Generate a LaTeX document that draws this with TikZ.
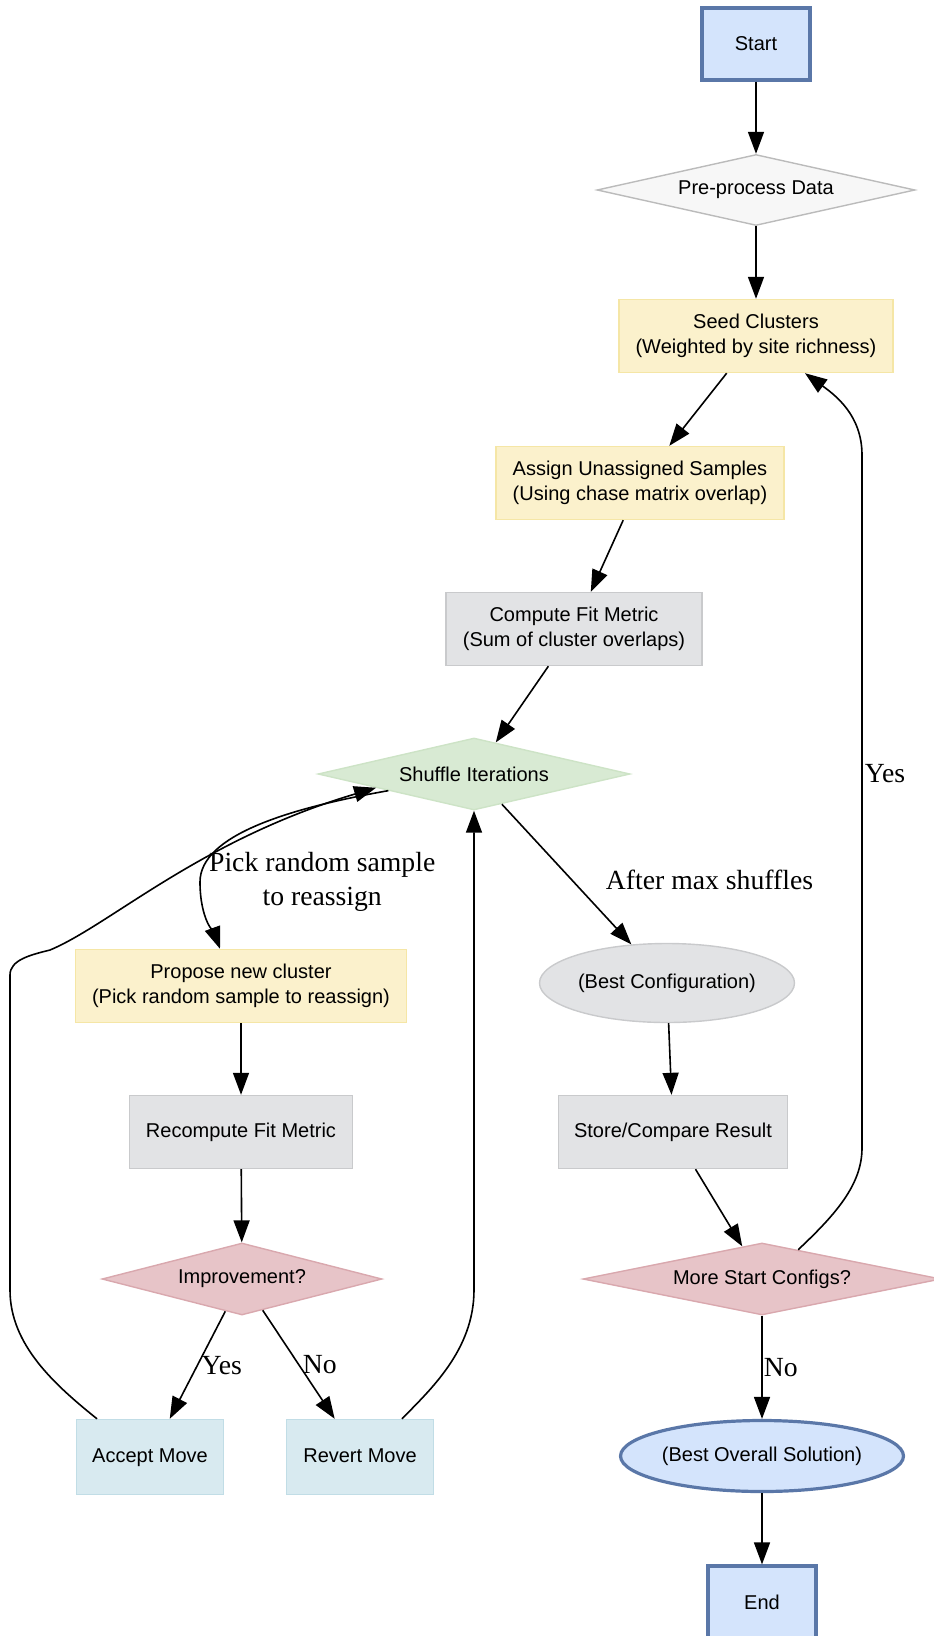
\documentclass[tikz,border=0pt]{standalone}
\usepackage{fontspec}
\setmainfont{Liberation Sans}
\newfontfamily\lblfont{Liberation Serif}
\usepackage{tikz}
\usetikzlibrary{shapes, arrows.meta}
\definecolor{termfill}{HTML}{D4E4FC}
\definecolor{termline}{HTML}{5A77A8}
\definecolor{prepfill}{HTML}{F7F7F7}
\definecolor{prepline}{HTML}{BBBBBB}
\definecolor{seedfill}{HTML}{FBF1CC}
\definecolor{seedline}{HTML}{F5E6A6}
\definecolor{calcfill}{HTML}{E2E3E5}
\definecolor{calcline}{HTML}{C9CACC}
\definecolor{loopfill}{HTML}{D8EAD3}
\definecolor{loopline}{HTML}{CDE3C6}
\definecolor{checkfill}{HTML}{E7C4C8}
\definecolor{checkline}{HTML}{D9A8AE}
\definecolor{movefill}{HTML}{D8EAF0}
\definecolor{moveline}{HTML}{C1DDE6}
\tikzstyle{base} = [font=\fontsize{20}{25}\selectfont, align=center, inner sep=0pt, line width=1.4pt]
\tikzstyle{term} = [base, rectangle, draw=termline, fill=termfill, line width=3.2pt, minimum width=108pt, minimum height=72pt]
\tikzstyle{final} = [base, ellipse, draw=termline, fill=termfill, line width=3.2pt, minimum width=277pt, minimum height=71pt]
\tikzstyle{prep} = [base, diamond, aspect=4.4, draw=prepline, fill=prepfill, minimum width=318pt, minimum height=71pt]
\tikzstyle{seedbox} = [base, rectangle, draw=seedline, fill=seedfill, minimum width=274pt, minimum height=73pt]
\tikzstyle{calc} = [base, rectangle, draw=calcline, fill=calcfill, minimum height=73pt]
\tikzstyle{result} = [base, ellipse, draw=calcline, fill=calcfill, minimum width=255pt, minimum height=79pt]
\tikzstyle{loopdec} = [base, diamond, aspect=4.4, draw=loopline, fill=loopfill, minimum width=312pt, minimum height=72pt]
\tikzstyle{check} = [base, diamond, aspect=4.4, draw=checkline, fill=checkfill, minimum height=72pt]
\tikzstyle{move} = [base, rectangle, draw=moveline, fill=movefill, minimum width=147pt, minimum height=75pt, text height=15pt, text depth=4pt]
\tikzstyle{flow} = [->, line width=1.6pt]
\tikzstyle{elabel} = [font=\lblfont\fontsize{27.7}{34}\selectfont, align=center]

\begin{document}
\begin{tikzpicture}[x=1pt, y=-1pt, >={Triangle[length=22pt, width=16pt]}]
  \useasboundingbox (0,0) rectangle (934,1636);

  % main column
  \node[term] at (756,44) (start) {Start};
  \node[prep] at (756,190) (prep) {Pre-process Data};
  \node[seedbox] at (756,336) (seed) {Seed Clusters\\(Weighted by site richness)};
  \node[seedbox, minimum width=288pt] at (640,483) (assign) {Assign Unassigned Samples\\(Using chase matrix overlap)};
  \node[calc, minimum width=256pt] at (574,629) (fit) {Compute Fit Metric\\(Sum of cluster overlaps)};
  \node[loopdec] at (474,774) (shuffle) {Shuffle Iterations};

  % inner loop
  \node[seedbox, minimum width=331pt] at (241,986) (propose) {Propose new cluster\\(Pick random sample to reassign)};
  \node[calc, minimum width=223pt] at (241,1132) (refit) {Recompute Fit Metric};
  \node[check, minimum width=280pt] at (242,1279) (improve) {Improvement?};
  \node[move] at (150,1457) (accept) {Accept Move};
  \node[move] at (360,1457) (revert) {Revert Move};

  % outer loop
  \node[result] at (667,983) (bestcfg) {(Best Configuration)};
  \node[calc, minimum width=229pt] at (673,1132) (store) {Store/Compare Result};
  \node[check, minimum width=358pt] at (762,1279) (more) {More Start Configs?};
  \node[final] at (762,1456) (best) {(Best Overall Solution)};
  \node[term] at (762,1602) (end) {End};

  \draw[flow] (start) -- (prep);
  \draw[flow] (prep) -- (seed);
  \draw[flow] (seed) -- (assign);
  \draw[flow] (assign) -- (fit);
  \draw[flow] (fit) -- (shuffle);
  \draw[flow] (shuffle) -- node[elabel, right=30pt, pos=0.54] {After max shuffles} (bestcfg);
  \draw[flow] (bestcfg) -- (store);
  \draw[flow] (store) -- (more);
  \draw[flow] (more) -- node[elabel, right, inner sep=1pt] {No} (best);
  \draw[flow] (best) -- (end);

  \draw[flow] (shuffle.191) .. controls (290,808) and (200,835) .. (200,882)
    node[elabel, right=5pt] {Pick random sample\\to reassign}
    .. controls (200,920) and (215,935) .. ([xshift=-21pt]propose.north);
  \draw[flow] (propose) -- (refit);
  \draw[flow] (refit) -- (improve);
  \draw[flow] (improve) -- node[elabel, right] {Yes} (accept);
  \draw[flow] (improve) -- node[elabel, right] {No} (revert);

  % back edges
  \draw[flow] ([xshift=-53pt]accept.north) .. controls (55,1385) and (10,1345) .. (10,1290)
    -- (10,975) .. controls (10,960) and (30,955) .. (50,950)
    .. controls (110,925) and (200,840) .. (shuffle.188);
  \draw[flow] ([xshift=42pt]revert.north) .. controls (430,1390) and (474,1350) .. (474,1290)
    -- (shuffle.south);
  \draw[flow] (more.39) .. controls (835,1215) and (862,1185) .. (862,1148)
    -- node[elabel, right, inner sep=2pt, pos=0.54] {Yes} (862,455)
    .. controls (862,415) and (835,395) .. ([xshift=49pt]seed.south);
\end{tikzpicture}
\end{document}
